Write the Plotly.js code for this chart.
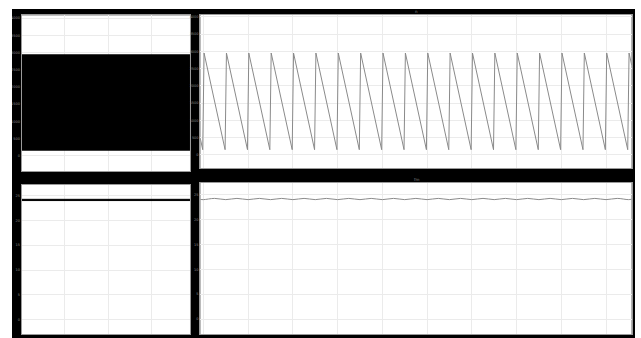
<!DOCTYPE html>
<html><head><meta charset="utf-8">
<script src="https://cdn.plot.ly/plotly-3.0.1.min.js"></script>
<style>
html,body{margin:0;padding:0;background:#fff;width:641px;height:338px;overflow:hidden}
#chart{position:absolute;left:12px;top:9px;width:623px;height:329px}
</style>
</head><body><div id="chart"></div>
<script>
// Top-right: sawtooth (time in grid units, value)
const sawTime = [-0.07, -0.015, 0.015, 0.485, 0.515, 0.985, 1.015, 1.485, 1.515, 1.985, 2.015,
  2.485, 2.515, 2.985, 3.015, 3.485, 3.515, 3.985, 4.015, 4.485, 4.515, 4.985, 5.015,
  5.485, 5.515, 5.985, 6.015, 6.485, 6.515, 6.985, 7.015, 7.485, 7.515, 7.985, 8.015,
  8.485, 8.515, 8.985, 9.015, 9.485, 9.515, 9.574];
const sawValue = [480, 150, 2950, 150, 2950, 150, 2950, 150, 2950, 150, 2950,
  150, 2950, 150, 2950, 150, 2950, 150, 2950, 150, 2950, 150, 2950,
  150, 2950, 150, 2950, 150, 2950, 150, 2950, 150, 2950, 150, 2950,
  150, 2950, 150, 2950, 150, 2950, 2600];

// Top-left: densely packed sawtooth, seen as its envelope
const denseTime = [0, 3.9];
const denseHigh = [2950, 2950];
const denseLow = [150, 150];

// Bottom-right: small ripple
const rippleTime = [-0.07, 0, 0.25, 0.5, 0.75, 1, 1.25, 1.5, 1.75, 2, 2.25, 2.5, 2.75, 3, 3.25,
  3.5, 3.75, 4, 4.25, 4.5, 4.75, 5, 5.25, 5.5, 5.75, 6, 6.25, 6.5, 6.75, 7, 7.25, 7.5, 7.75,
  8, 8.25, 8.5, 8.75, 9, 9.25, 9.5, 9.574];
const rippleValue = [24.05, 24.0, 24.25, 24.0, 24.25, 24.0, 24.25, 24.0, 24.25, 24.0, 24.25, 24.0, 24.25, 24.0, 24.25,
  24.0, 24.25, 24.0, 24.25, 24.0, 24.25, 24.0, 24.25, 24.0, 24.25, 24.0, 24.25, 24.0, 24.25, 24.0, 24.25, 24.0, 24.25,
  24.0, 24.25, 24.0, 24.25, 24.0, 24.25, 24.0, 24.08];

// Bottom-left: dense ripple envelope
const bandTime = [0, 3.9];
const bandHigh = [24.25, 24.25];
const bandLow = [24.0, 24.0];

const titleTop = 'n';
const titleBottom = 'fm';

const traces = [
  {x: denseTime, y: denseLow, xaxis: 'x', yaxis: 'y', mode: 'lines', line: {color: '#000', width: 0}, hoverinfo: 'skip'},
  {x: denseTime, y: denseHigh, xaxis: 'x', yaxis: 'y', mode: 'lines', fill: 'tonexty', fillcolor: '#000', line: {color: '#000', width: 0}},
  {x: sawTime, y: sawValue, xaxis: 'x2', yaxis: 'y2', mode: 'lines', line: {color: '#8a8a8a', width: 1}},
  {x: bandTime, y: bandLow, xaxis: 'x3', yaxis: 'y3', mode: 'lines', line: {color: '#000', width: 1}},
  {x: bandTime, y: bandHigh, xaxis: 'x3', yaxis: 'y3', mode: 'lines', fill: 'tonexty', fillcolor: '#000', line: {color: '#000', width: 1}},
  {x: rippleTime, y: rippleValue, xaxis: 'x4', yaxis: 'y4', mode: 'lines', line: {color: '#8a8a8a', width: 1, shape: 'spline'}}
];

const grid = '#ebebeb';
const tf = {family: 'DejaVu Sans', size: 3.5, color: '#8a8a8a'};
function xa(dom, rng, anchor) {
  return {domain: dom, range: rng, anchor: anchor, dtick: 1, tick0: 0, showticklabels: false, ticks: '',
    showgrid: true, gridcolor: grid, gridwidth: 1, zeroline: false, showline: true, mirror: true,
    linecolor: '#9a9a9a', linewidth: 1, fixedrange: true};
}
function ya(dom, rng, anchor, dt) {
  return {domain: dom, range: rng, anchor: anchor, dtick: dt, tick0: 0, ticks: '', tickfont: tf,
    showgrid: true, gridcolor: grid, gridwidth: 1, zeroline: false, showline: true, mirror: true,
    linecolor: '#9a9a9a', linewidth: 1, ticklabelstandoff: 0, fixedrange: true};
}

const layout = {
  width: 623, height: 329,
  margin: {l: 0, r: 0, t: 0, b: 0, pad: 0},
  paper_bgcolor: '#000', plot_bgcolor: '#fff',
  showlegend: false,
  xaxis: xa([0.0156, 0.2857], [0, 3.9], 'y'),
  yaxis: ya([0.5076, 0.981], [-440, 4087], 'x', 500),
  xaxis2: xa([0.3022, 0.9947], [-0.07, 9.574], 'y2'),
  yaxis2: ya([0.5167, 0.9827], [-380, 4060], 'x2', 500),
  xaxis3: xa([0.0156, 0.2857], [0, 3.9], 'y3'),
  yaxis3: ya([0.01216, 0.466], [-2.9, 27.2], 'x3', 5),
  xaxis4: xa([0.3022, 0.9947], [-0.07, 9.574], 'y4'),
  yaxis4: ya([0.01216, 0.472], [-3.0, 27.4], 'x4', 5),
  annotations: [
    {text: titleTop, xref: 'paper', yref: 'paper', x: 0.6485, y: 0.993, showarrow: false,
      font: {family: 'DejaVu Sans', size: 4, color: '#8a8a8a'}, xanchor: 'center', yanchor: 'middle'},
    {text: titleBottom, xref: 'paper', yref: 'paper', x: 0.6485, y: 0.4824, showarrow: false,
      font: {family: 'DejaVu Sans', size: 4, color: '#8a8a8a'}, xanchor: 'center', yanchor: 'middle'}
  ]
};

Plotly.newPlot('chart', traces, layout, {displayModeBar: false, staticPlot: true});
</script></body></html>
